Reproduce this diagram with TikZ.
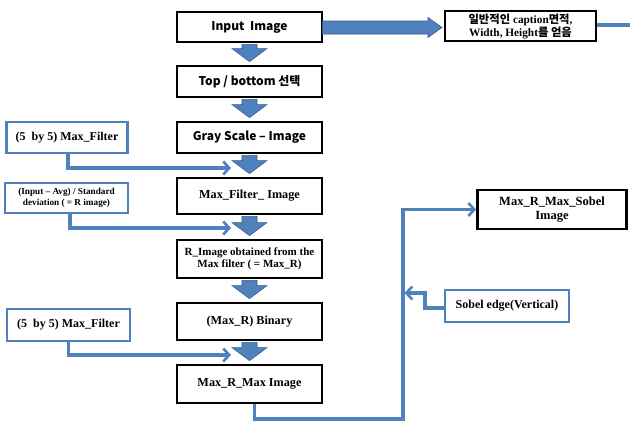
\documentclass[tikz,border=0pt]{standalone}
\usepackage{fontspec}
\setmainfont{Liberation Serif}
\newfontfamily\kr{Noto Sans CJK KR}
\usetikzlibrary{calc,arrows.meta}
\definecolor{ofblue}{HTML}{4F81BD}
\definecolor{ofdark}{HTML}{385D8A}
\tikzset{
  mainbox/.style={draw=black, line width=2.8pt, fill=white, minimum width=145pt, inner sep=1pt, align=center, font=\bfseries\fontsize{12.2}{13}\selectfont},
  sansbox/.style={mainbox, font=\kr\bfseries\fontsize{12}{13}\selectfont},
  bluebox/.style={draw=ofblue, line width=2.6pt, fill=white, inner sep=1pt, align=center, font=\bfseries\fontsize{12}{13}\selectfont},
  conn/.style={draw=ofblue, line width=3.2pt, -{Straight Barb[length=6pt,width=13pt,line width=2.6pt]}},
  plainconn/.style={draw=ofblue, line width=3.2pt},
  barrow/.style={fill=ofblue, draw=ofdark, line width=0.6pt},
}
\newcommand\blockdown[2]{%
  \draw[barrow] ($(#1.south)+(-7.5,1)$) -- ($(#2.north)+(-7.5,-16)$) -- ($(#2.north)+(-17.5,-16)$) -- ($(#2.north)+(0,-3)$) -- ($(#2.north)+(17.5,-16)$) -- ($(#2.north)+(7.5,-16)$) -- ($(#1.south)+(7.5,1)$) -- cycle;}
\begin{document}
\begin{tikzpicture}[x=1pt,y=-1pt]
\useasboundingbox[fill=white] (0,0) rectangle (630,426);
% main column
\node[sansbox, minimum height=30pt] (in) at (249.5,27) {Input\ \ Image};
\node[sansbox, minimum height=31pt] (tb) at (249.5,81.5) {Top / bottom 선택};
\node[sansbox, minimum height=31pt] (gs) at (249.5,137.5) {Gray Scale – Image};
\node[mainbox, minimum height=36pt] (mf) at (249.5,196) {Max\_Filter\_ Image};
\node[mainbox, minimum height=38pt, font=\bfseries\fontsize{11}{12.5}\selectfont] (ri) at (249.5,259) {R\_Image obtained from the\\Max filter ( = Max\_R)};
\node[mainbox, minimum height=37pt] (bi) at (249.5,321.5) {(Max\_R) Binary};
\node[mainbox, minimum height=38pt] (mm) at (249.5,384) {Max\_R\_Max Image};
% right boxes
\node[mainbox, minimum width=151pt, minimum height=30pt, font=\bfseries\fontsize{11.3}{13}\selectfont] (kb) at (520.5,26) {{\kr 일반적인} caption{\kr 면적},\\Width, Height{\kr 를 얻음}};
\node[mainbox, minimum width=149pt, minimum height=39pt, font=\bfseries\fontsize{12.5}{13.5}\selectfont] (sb) at (552,209.5) {Max\_R\_Max\_Sobel\\Image};
% blue side boxes
\node[bluebox, minimum width=121pt, minimum height=31pt] (f1) at (67,137.5) {(5\ \ by 5) Max\_Filter};
\node[bluebox, minimum width=123pt, minimum height=30pt, font=\bfseries\fontsize{9.2}{10.5}\selectfont] (f2) at (66.5,198) {(Input – Avg) / Standard\\deviation ( = R image)};
\node[bluebox, minimum width=123pt, minimum height=32pt] (f3) at (68.5,325) {(5\ \ by 5) Max\_Filter};
\node[bluebox, minimum width=124pt, minimum height=32pt, font=\bfseries\fontsize{12}{13}\selectfont] (se) at (507,306) {Sobel edge(Vertical)};
% block arrows
\blockdown{in}{tb}
\blockdown{tb}{gs}
\blockdown{gs}{mf}
\blockdown{mf}{ri}
\blockdown{ri}{bi}
\blockdown{bi}{mm}
\draw[barrow] ($(in.east)+(-1,-6)$) -- (428,21) -- (428,17.5) -- (442,27.5) -- (428,37.5) -- (428,34) -- ($(in.east)+(-1,7)$) -- cycle;
% connectors
\coordinate (t1) at (231,168);
\coordinate (t2) at (231,228);
\coordinate (t3) at (231,355);
\draw[conn] (f1.south) ++(1,0) |- (t1);
\draw[conn] (f2.south) ++(3.5,0) |- (t2);
\draw[conn] (f3.south) |- (t3);
\coordinate (rt) at (630,25);
\draw[plainconn] (rt) -- (kb.east |- rt);
\coordinate (c1) at (254.5,419);
\coordinate (c2) at (403,419);
\draw[conn] (mm.south -| c1) -- (c1) -- (c2) |- (sb.west);
\coordinate (c3) at (425,293);
\draw[conn] (se.west |- 0,308) -| (c3) -- (404.5,293);
\end{tikzpicture}
\end{document}
